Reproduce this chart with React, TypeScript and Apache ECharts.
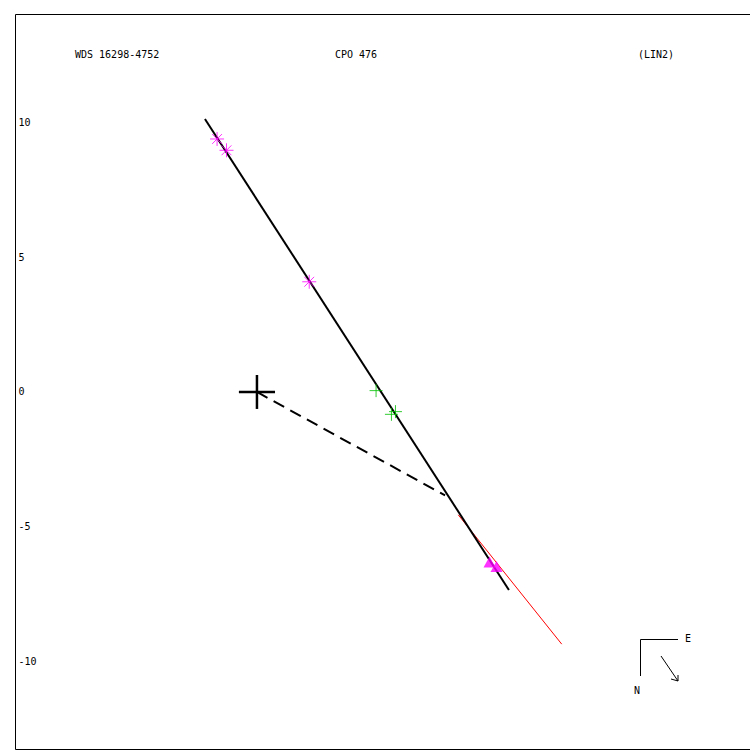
import React, { useEffect, useRef } from "react";
import * as echarts from "echarts";

const titles = ["WDS 16298-4752", "CPO 476", "(LIN2)"];
const yTickValues = [-10, -5, 0, 5, 10];
const starPoints = [[-1.48, 9.39], [-1.13, 8.97], [1.94, 4.09]];
const plusPoints = [[4.42, 0.05], [4.99, -0.83], [5.14, -0.73]];
const trianglePoints = [[8.63, -6.31], [8.89, -6.48]];
const fitLine = [[-1.93, 10.13], [9.35, -7.35]];
const redLine = [[7.47, -4.56], [11.31, -9.36]];
const dashedLine = [[0, 0], [6.98, -3.84]];
const crossH = [[-0.67, 0], [0.67, 0]];
const crossV = [[0, -0.63], [0, 0.63]];

const MONO = "DejaVu Sans Mono";

export default function App() {
  const ref = useRef<HTMLDivElement>(null);
  useEffect(() => {
    if (!ref.current) return;
    const chart = echarts.init(ref.current, null, { renderer: "svg" });
    const lineSeries = (data: number[][], color: string, width: number, type: any = "solid") => ({
      type: "line",
      data,
      showSymbol: false,
      symbol: "none",
      silent: true,
      lineStyle: { color, width, type },
      z: 2,
    });
    chart.setOption({
      animation: false,
      backgroundColor: "#ffffff",
      grid: {
        left: 15.5,
        top: 14.5,
        width: 740,
        height: 735,
        show: false,
      },
      xAxis: {
        type: "value",
        min: -8.96,
        max: 18.5,
        axisLine: { show: false },
        axisTick: { show: false },
        axisLabel: { show: false },
        splitLine: { show: false },
      },
      yAxis: {
        type: "value",
        min: -13.27,
        max: 14.01,
        axisLine: { show: false },
        axisTick: { show: false },
        splitLine: { show: false },
        axisLabel: {
          inside: true,
          margin: 3,
          customValues: yTickValues,
          color: "#000000",
          fontFamily: MONO,
          fontSize: 10,
        },
      },
      graphic: [
        {
          type: "rect",
          shape: { x: 15.5, y: 14.5, width: 745, height: 735 },
          style: { stroke: "#000", lineWidth: 1, fill: "none" },
          silent: true,
        },
        { type: "text", left: 75, top: 49, style: { text: titles[0], font: `10px "${MONO}"`, fill: "#000" } },
        { type: "text", left: 335, top: 49, style: { text: titles[1], font: `10px "${MONO}"`, fill: "#000" } },
        { type: "text", left: 638, top: 49, style: { text: titles[2], font: `10px "${MONO}"`, fill: "#000" } },
        {
          type: "polyline",
          shape: { points: [[678, 639.5], [640.5, 639.5], [640.5, 676]] },
          style: { stroke: "#000", lineWidth: 1, fill: "none" },
        },
        { type: "text", left: 685, top: 633, style: { text: "E", font: `10px "${MONO}"`, fill: "#000" } },
        { type: "text", left: 634, top: 685, style: { text: "N", font: `10px "${MONO}"`, fill: "#000" } },
        {
          type: "line",
          shape: { x1: 661, y1: 656, x2: 678, y2: 681 },
          style: { stroke: "#000", lineWidth: 1 },
        },
        {
          type: "polyline",
          shape: { points: [[678, 675], [678, 681], [671, 679]] },
          style: { stroke: "#000", lineWidth: 1, fill: "none" },
        },
      ],
      series: [
        lineSeries(redLine, "#ff0000", 1),
        {
          type: "scatter",
          data: trianglePoints,
          symbol: "triangle",
          symbolSize: [12, 11],
          silent: true,
          itemStyle: { color: "#ff00ff" },
          z: 2,
        },
        lineSeries(fitLine, "#000000", 2),
        lineSeries(dashedLine, "#000000", 2, [12, 7]),
        lineSeries(crossH, "#000000", 2.5),
        lineSeries(crossV, "#000000", 2.5),
        {
          type: "scatter",
          data: starPoints,
          symbol: "path://M0,-10L0,10M-10,0L10,0M-7,-7L7,7M-7,7L7,-7",
          symbolSize: 14,
          silent: true,
          itemStyle: { color: "transparent", borderColor: "#ff00ff", borderWidth: 1 },
          z: 3,
        },
        {
          type: "scatter",
          data: plusPoints,
          symbol: "path://M0,-10L0,10M-10,0L10,0",
          symbolSize: 13,
          silent: true,
          itemStyle: { color: "transparent", borderColor: "#00c000", borderWidth: 1 },
          z: 3,
        },
      ],
    });
    return () => chart.dispose();
  }, []);
  return (
    <div
      ref={ref}
      style={{ position: "fixed", left: 0, top: 0, width: 760, height: 760, background: "#fff" }}
    />
  );
}
